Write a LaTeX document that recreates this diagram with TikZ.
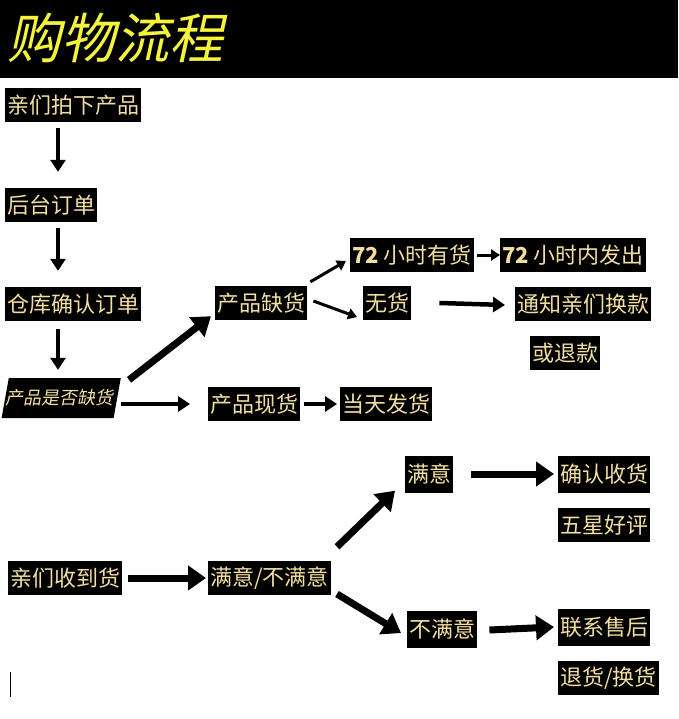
\documentclass[tikz,border=0pt]{standalone}
\usepackage{fontspec}
\setmainfont{Noto Sans CJK SC}
\usetikzlibrary{arrows.meta}
\definecolor{txt}{HTML}{F2DFA0}
\definecolor{ttl}{HTML}{F4F43C}
\begin{document}
\begin{tikzpicture}[x=1pt,y=-1pt,
 box/.style={fill=black,text=txt,font=\fontsize{22}{22}\selectfont,inner xsep=2pt,inner ysep=0pt,minimum height=34pt,anchor=west},
 ar/.style={line width=4.5pt,-{Triangle[width=15pt,length=12pt]}},
 art/.style={line width=3pt,-{Triangle[width=11pt,length=9pt]}},
 arb/.style={line width=7pt,-{Triangle[width=24pt,length=18pt]}}]
\useasboundingbox (0,0) rectangle (678,719);
\fill[black] (0,0) rectangle (678,78);
\node[anchor=west,text=ttl,font=\fontsize{54}{54}\selectfont,xslant=0.22] (title) at (8,38) {购物流程};
\node[box] (b1) at (5,105) {亲们拍下产品};
\node[box] (b2) at (5,205) {后台订单};
\node[box] (b3) at (5,304) {仓库确认订单};
\node[box,minimum height=40pt,font=\fontsize{18}{18}\selectfont,xslant=0.18] (b4) at (5,398) {产品是否缺货};
\node[box] (b5) at (215,303) {产品缺货};
\node[box] (b6) at (350,255) {\textbf{72} 小时有货};
\node[box] (b7) at (500,255) {\textbf{72} 小时内发出};
\node[box] (b8) at (363,303) {无货};
\node[box] (b9) at (515,304) {通知亲们换款};
\node[box] (b10) at (530,353) {或退款};
\node[box] (b11) at (208,404) {产品现货};
\node[box] (b12) at (340,404) {当天发货};
\node[box,minimum height=37pt] (b13) at (405,474) {满意};
\node[box,minimum height=37pt] (b14) at (558,474) {确认收货};
\node[box] (b15) at (558,525) {五星好评};
\node[box] (b16) at (8,578) {亲们收到货};
\node[box] (b17) at (208,578) {满意/不满意};
\node[box,minimum height=37pt] (b18) at (407,629) {不满意};
\node[box,minimum height=37pt] (b19) at (558,627) {联系售后};
\node[box] (b20) at (558,678) {退货/换货};
\draw[black,line width=1pt] (10,672) -- (10,697);
% arrows
\draw[ar] ([yshift=-6pt]b1.south -| 58,0) -- ([yshift=16pt]b2.north -| 58,0);
\draw[ar] ([yshift=-6pt]b2.south -| 58,0) -- ([yshift=16pt]b3.north -| 58,0);
\draw[ar] ([yshift=-8pt]b3.south -| 58,0) -- ([yshift=8pt]b4.north -| 58,0);
\draw[arb] ([xshift=8pt,yshift=-2pt]b4.north east) -- ([xshift=-4pt,yshift=4pt]b5.south west);
\draw[ar] ([xshift=4pt,yshift=-6pt]b4.east) -- ([xshift=-18pt]b11.west);
\draw[ar] ([xshift=4pt]b11.east) -- ([xshift=-3pt]b12.west);
\draw[art] ([xshift=3pt,yshift=4pt]b5.north east) -- ([xshift=-4pt,yshift=-6pt]b6.west);
\draw[art] ([xshift=6pt,yshift=2pt]b5.east) -- ([xshift=-6pt,yshift=-14pt]b8.west);
\draw[art] ([xshift=3pt]b6.east) -- (b7.west);
\draw[ar] ([xshift=28pt]b8.east) -- ([xshift=-10pt,yshift=-1pt]b9.west);
\draw[arb] ([xshift=6pt]b16.east) -- ([xshift=-2pt]b17.west);
\draw[arb] ([xshift=6pt,yshift=14pt]b17.north east) -- ([xshift=-10pt,yshift=2pt]b13.south west);
\draw[arb] ([xshift=6pt,yshift=-16pt]b17.east) -- ([xshift=-6pt,yshift=-4pt]b18.west);
\draw[arb] ([xshift=18pt]b13.east) -- ([xshift=-4pt]b14.west);
\draw[arb] ([xshift=12pt,yshift=-1pt]b18.east) -- ([xshift=-4pt]b19.west);
\end{tikzpicture}
\end{document}
